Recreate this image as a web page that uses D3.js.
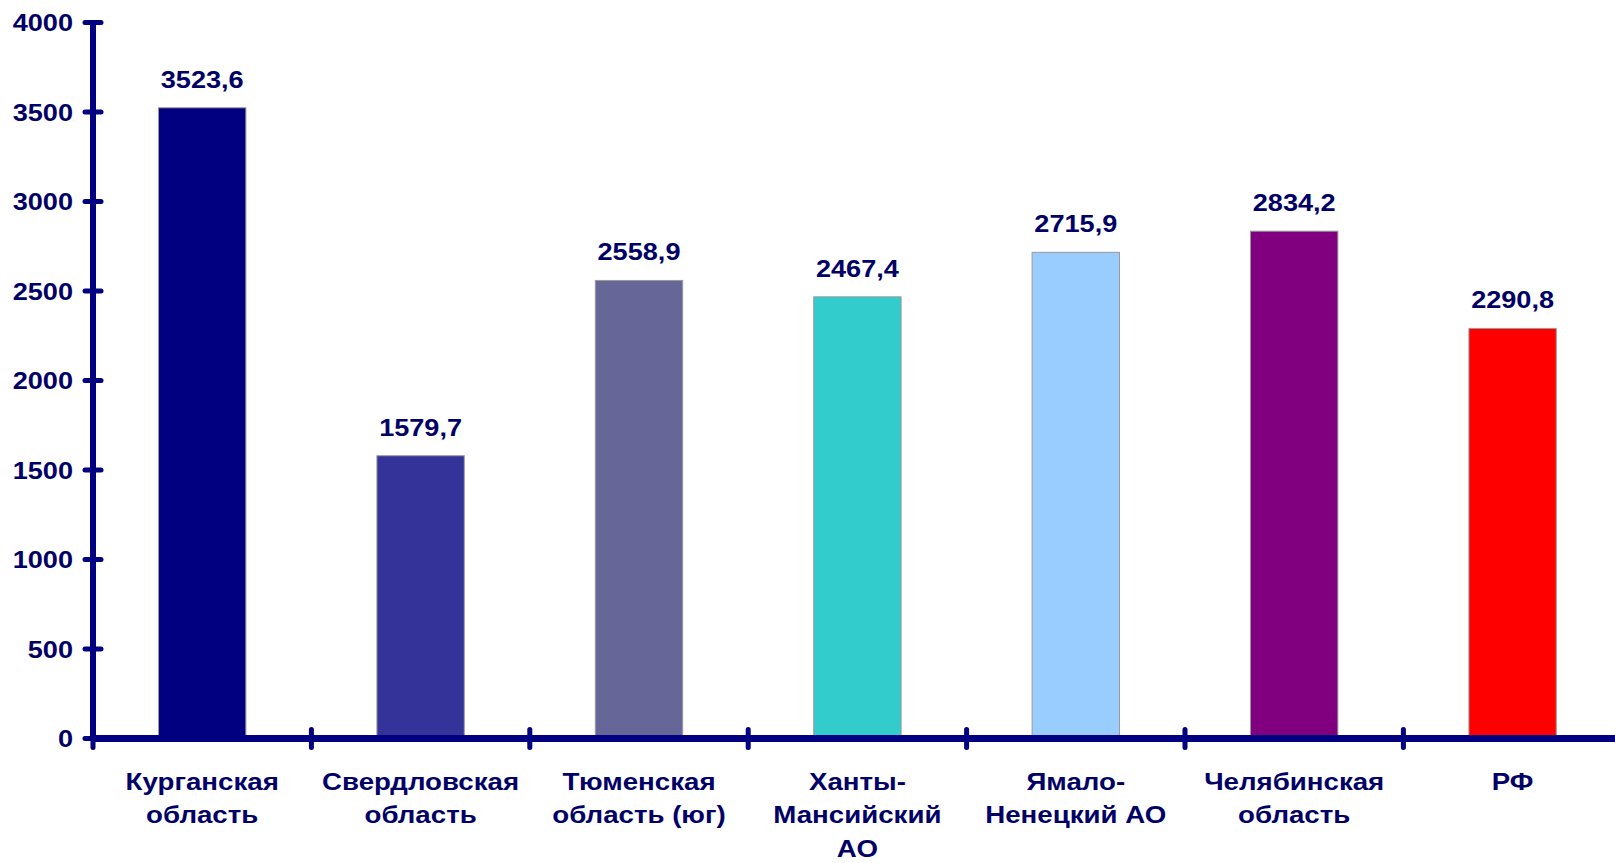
<!DOCTYPE html>
<html>
<head>
    <meta charset="utf-8">
    <title>D3 Bar Chart</title>
    <script src="https://cdnjs.cloudflare.com/ajax/libs/d3/7.8.5/d3.min.js"></script>
    <style>
        html, body {
            margin: 0;
            padding: 0;
            background: #fff;
            overflow: hidden;
        }
        text {
            font-family: "Liberation Sans", Arial, sans-serif;
            font-weight: bold;
            fill: #000066;
        }
    </style>
</head>
<body>
    <div id="chart"></div>

    <script>
        // Data
        const categories = [
            ['Курганская', 'область'],
            ['Свердловская', 'область'],
            ['Тюменская', 'область (юг)'],
            ['Ханты-', 'Мансийский', 'АО'],
            ['Ямало-', 'Ненецкий АО'],
            ['Челябинская', 'область'],
            ['РФ']
        ];
        const values = [3523.6, 1579.7, 2558.9, 2467.4, 2715.9, 2834.2, 2290.8];
        const colors = ['#000080', '#333399', '#666699', '#33CCCC', '#99CCFF', '#800080', '#FF0000'];
        const yTicks = [0, 500, 1000, 1500, 2000, 2500, 3000, 3500, 4000];

        const width = 1615;
        const height = 863;
        const margin = {top: 22.5, left: 93, bottom: 124.5};
        const bandStep = 218.4;
        const axisColor = '#000080';
        const stretch = 1.13; // labels in the source look horizontally stretched

        const svg = d3.select('#chart')
            .append('svg')
            .attr('width', width)
            .attr('height', height);

        const keys = categories.map((d, i) => i);

        const x = d3.scaleBand()
            .domain(keys)
            .range([margin.left, margin.left + bandStep * keys.length])
            .padding(0);

        const y = d3.scaleLinear()
            .domain([0, 4000])
            .range([height - margin.bottom, margin.top]);

        const barW = x.bandwidth() * 0.4;

        // Bars
        svg.selectAll('rect.bar')
            .data(values)
            .join('rect')
            .attr('class', 'bar')
            .attr('x', (d, i) => x(i) + (x.bandwidth() - barW) / 2)
            .attr('y', d => y(d))
            .attr('width', barW)
            .attr('height', d => y(0) - y(d))
            .attr('fill', (d, i) => colors[i])
            .attr('stroke', '#9a9a9a')
            .attr('stroke-width', 1);

        // Value labels
        const fmt = d => d3.format('.1f')(d).replace('.', ',');
        svg.selectAll('text.value')
            .data(values)
            .join('text')
            .attr('class', 'value')
            .attr('text-anchor', 'middle')
            .attr('font-size', 24)
            .attr('transform', (d, i) =>
                `translate(${x(i) + x.bandwidth() / 2},${y(d) - 20}) scale(${stretch},1)`)
            .text(fmt);

        // Y axis line
        svg.append('line')
            .attr('x1', margin.left).attr('x2', margin.left)
            .attr('y1', y(0)).attr('y2', y(4000))
            .attr('stroke', axisColor)
            .attr('stroke-width', 6);

        // X axis line
        svg.append('line')
            .attr('x1', margin.left).attr('x2', width)
            .attr('y1', y(0)).attr('y2', y(0))
            .attr('stroke', axisColor)
            .attr('stroke-width', 7);

        // Y ticks (crossing the axis)
        svg.selectAll('line.ytick')
            .data(yTicks)
            .join('line')
            .attr('class', 'ytick')
            .attr('x1', margin.left - 8).attr('x2', margin.left + 8)
            .attr('y1', d => y(d)).attr('y2', d => y(d))
            .attr('stroke', axisColor)
            .attr('stroke-width', 5)
            .attr('stroke-linecap', 'round');

        svg.selectAll('text.ytick')
            .data(yTicks)
            .join('text')
            .attr('class', 'ytick')
            .attr('text-anchor', 'end')
            .attr('font-size', 24)
            .attr('dy', '0.36em')
            .attr('transform', d => `translate(73,${y(d)}) scale(${stretch},1)`)
            .text(d => d);

        // X ticks at category boundaries
        svg.selectAll('line.xtick')
            .data(keys)
            .join('line')
            .attr('class', 'xtick')
            .attr('x1', d => x(d)).attr('x2', d => x(d))
            .attr('y1', y(0) - 9).attr('y2', y(0) + 9)
            .attr('stroke', axisColor)
            .attr('stroke-width', 5)
            .attr('stroke-linecap', 'round');

        // Category labels
        const cat = svg.selectAll('g.cat')
            .data(categories)
            .join('g')
            .attr('class', 'cat')
            .attr('transform', (d, i) => `translate(${x(i) + x.bandwidth() / 2},${y(0) + 51}) scale(${stretch},1)`);

        cat.selectAll('text')
            .data(d => d)
            .join('text')
            .attr('text-anchor', 'middle')
            .attr('font-size', 24.5)
            .attr('y', (d, j) => j * 34)
            .text(d => d);
    </script>
</body>
</html>
